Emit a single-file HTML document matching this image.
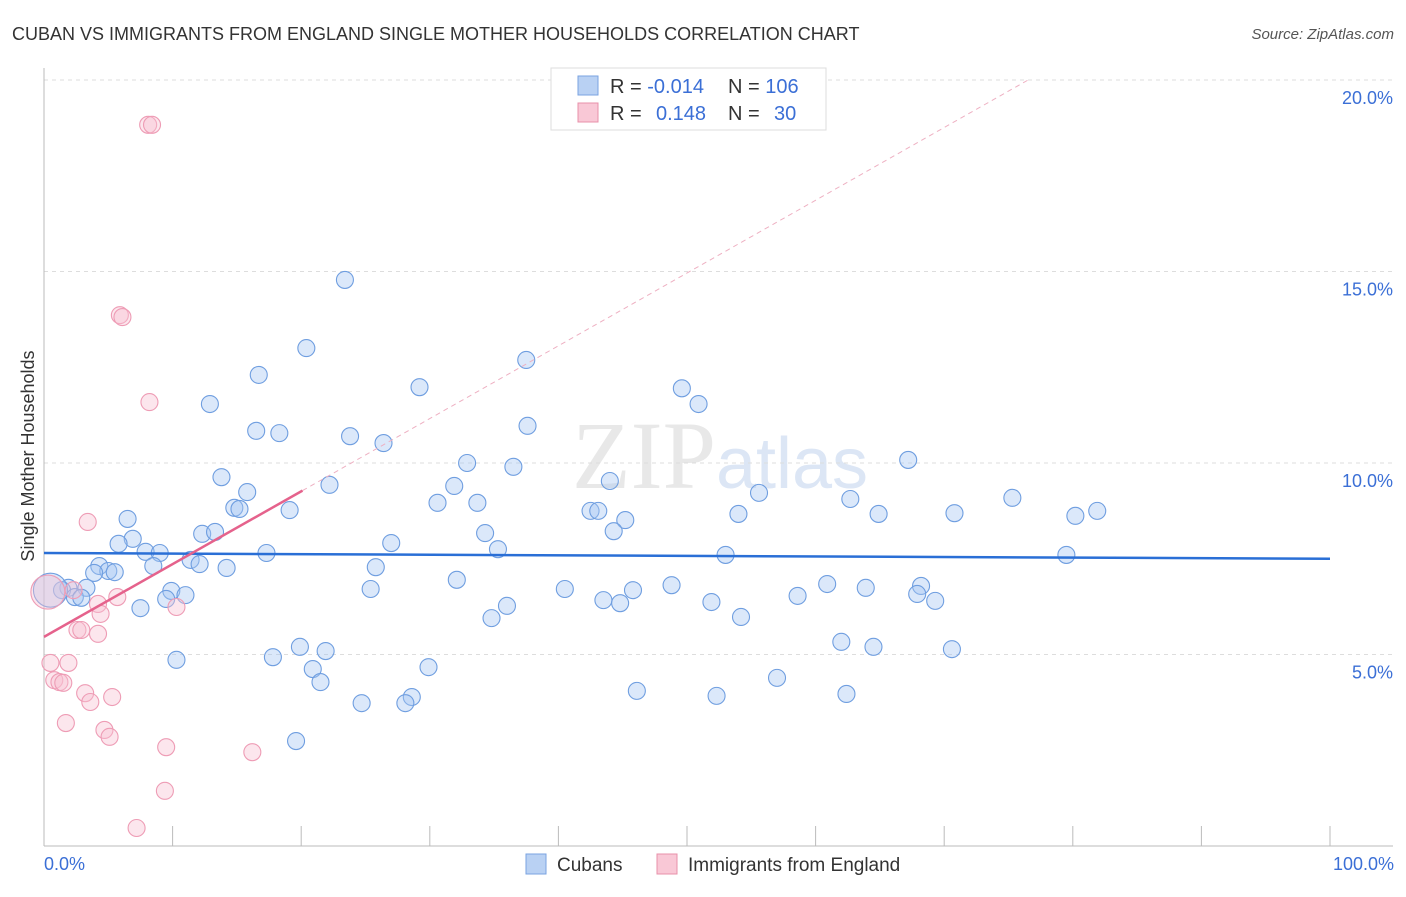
<!DOCTYPE html>
<html><head><meta charset="utf-8"><style>
body{margin:0;background:#fff;font-family:"Liberation Sans",sans-serif}
svg text{font-family:"Liberation Sans",sans-serif}
</style></head><body>
<svg id="chart" width="1406" height="892" xmlns="http://www.w3.org/2000/svg">
<text x="12" y="40" font-size="18" fill="#333">CUBAN VS IMMIGRANTS FROM ENGLAND SINGLE MOTHER HOUSEHOLDS CORRELATION CHART</text>
<text x="1394" y="39" font-size="15" fill="#555" font-style="italic" text-anchor="end">Source: ZipAtlas.com</text>
<text x="720" y="488" font-size="96" fill="#e8e8e8" text-anchor="middle" font-family="Liberation Serif"><tspan font-family="Liberation Serif">ZIP</tspan><tspan fill="#dce6f5" font-size="72" font-family="Liberation Sans">atlas</tspan></text>
<g id="grid"></g>
<g id="marks"></g>
<text transform="translate(34,456) rotate(-90)" font-size="18" fill="#333" text-anchor="middle">Single Mother Households</text>
<text x="44" y="870" font-size="18" fill="#3b6fd6">0.0%</text>
<text x="1394" y="870" font-size="18" fill="#3b6fd6" text-anchor="end">100.0%</text>
<g>
<rect x="551" y="68" width="275" height="62" fill="#fff" stroke="#ddd"/>
<rect x="578" y="76" width="20" height="19" fill="#b9d1f3" stroke="#7aa3e0"/>
<rect x="578" y="103" width="20" height="19" fill="#f9c8d6" stroke="#e890aa"/>
<text x="610" y="93" font-size="20" fill="#333">R = <tspan fill="#3b6fd6">-0.014</tspan></text>
<text x="728" y="93" font-size="20" fill="#333">N = <tspan fill="#3b6fd6">106</tspan></text>
<text x="610" y="120" font-size="20" fill="#333">R = </text>
<text x="656" y="120" font-size="20" fill="#3b6fd6">0.148</text>
<text x="728" y="120" font-size="20" fill="#333">N = </text>
<text x="774" y="120" font-size="20" fill="#3b6fd6">30</text>
</g>
<g>
<rect x="526" y="854" width="20" height="20" fill="#b9d1f3" stroke="#7aa3e0"/>
<text x="557" y="871" font-size="19" fill="#333">Cubans</text>
<rect x="657" y="854" width="20" height="20" fill="#f9c8d6" stroke="#e890aa"/>
<text x="688" y="871" font-size="19" fill="#333">Immigrants from England</text>
</g>
</svg>
<script>
const yTicks=[5,10,15,20];
const yTickLabels=["5.0%","10.0%","15.0%","20.0%"];
const xTicks=[10,20,30,40,50,60,70,80,90,100];
const cubanX=[23.4,20.4,16.7,37.5,29.2,49.6,50.9,12.9,16.5,18.3,23.8,26.4,37.6,32.9,36.5,67.2,13.8,44.0,22.2,15.8,31.9,55.6,30.6,33.7,62.7,75.3,14.8,15.2,19.1,42.5,43.1,54.0,64.9,70.8,80.2,81.9,6.5,45.2,34.3,44.3,12.3,13.3,6.9,5.8,27.0,35.3,7.9,9.0,17.3,53.0,79.5,11.4,12.1,8.5,14.2,4.3,25.8,5.0,5.5,3.9,32.1,48.8,60.9,68.2,63.9,40.5,45.8,25.4,9.9,3.3,1.9,1.4,67.9,11.0,2.4,2.9,9.5,58.6,43.5,44.8,51.9,69.3,7.5,36.0,34.8,54.2,62.0,64.5,70.6,19.9,21.9,10.3,17.8,20.9,29.9,21.5,57.0,46.1,28.6,52.3,62.4,24.7,28.1,19.6,0.5];
const cubanY=[14.78,13.0,12.3,12.69,11.98,11.95,11.54,11.54,10.84,10.78,10.70,10.52,10.97,10.0,9.90,10.08,9.63,9.53,9.43,9.24,9.40,9.22,8.96,8.96,9.06,9.09,8.83,8.80,8.77,8.75,8.75,8.67,8.67,8.69,8.62,8.75,8.54,8.51,8.17,8.22,8.15,8.20,8.02,7.89,7.91,7.75,7.68,7.65,7.65,7.60,7.60,7.47,7.36,7.31,7.26,7.31,7.28,7.18,7.15,7.13,6.95,6.81,6.84,6.79,6.74,6.71,6.68,6.71,6.66,6.74,6.74,6.68,6.58,6.55,6.50,6.48,6.45,6.53,6.42,6.34,6.37,6.40,6.21,6.27,5.95,5.98,5.33,5.20,5.14,5.20,5.09,4.86,4.93,4.62,4.67,4.28,4.39,4.05,3.89,3.92,3.97,3.73,3.73,2.74,6.68];
const englandX=[8.1,8.4,5.9,6.1,8.2,3.4,2.3,5.7,4.2,4.4,10.3,2.6,2.9,4.2,0.5,1.9,0.8,1.2,1.5,3.2,3.6,5.3,1.7,4.7,5.1,9.5,16.2,9.4,7.2,0.3];
const englandY=[18.83,18.83,13.86,13.81,11.59,8.46,6.68,6.50,6.32,6.06,6.24,5.64,5.64,5.54,4.78,4.78,4.33,4.28,4.26,3.99,3.76,3.89,3.21,3.03,2.85,2.58,2.45,1.44,0.47,6.63];
const cubanTrend=[7.65,7.50];
const englandTrend=[5.46,0.19];
const NS="http://www.w3.org/2000/svg";
const X0=44,X1=1330,Y0=846,Y1=80;
function sx(v){return X0+(X1-X0)*v/100;}
function sy(v){return Y0-(Y0-Y1)*v/20;}
function mk(tag,a,parent){const e=document.createElementNS(NS,tag);for(const k in a)e.setAttribute(k,a[k]);parent.appendChild(e);return e;}
const grid=document.getElementById('grid'),marks=document.getElementById('marks');
yTicks.forEach((t,i)=>{
 const l=mk('line',{x1:X0,x2:1393,y1:sy(t),y2:sy(t),stroke:'#ddd','stroke-dasharray':'4,4'},grid);
 
 
 const tx=mk('text',{x:1393,y:sy(t)+24,'font-size':18,fill:'#3b6fd6','text-anchor':'end'},grid);
 tx.textContent=yTickLabels[i];
 
 
});
const ax=mk('line',{x1:X0,x2:X0,y1:68,y2:Y0,stroke:'#bbb'},grid);


const bx=mk('line',{x1:X0,x2:1393,y1:Y0,y2:Y0,stroke:'#bbb'},grid);


xTicks.forEach(t=>{
 const l=mk('line',{x1:sx(t),x2:sx(t),y1:826,y2:Y0,stroke:'#bbb'},grid);
 
 
});
cubanX.forEach((x,i)=>{
 const big=i===cubanX.length-1;
 const c=mk('circle',{cx:sx(x),cy:sy(cubanY[i]),r:big?17:8.5,fill:'rgba(165,198,242,0.4)',stroke:'#6f9ee0','stroke-width':1.1},marks);
 
 
});
englandX.forEach((x,i)=>{
 const big=i===englandX.length-1;
 const c=mk('circle',{cx:sx(x),cy:sy(englandY[i]),r:big?17:8.5,fill:'rgba(248,192,210,0.4)',stroke:'#ee9cb5','stroke-width':1.1},marks);
 
 
});
const ct=mk('line',{x1:sx(0),y1:sy(cubanTrend[0]),x2:sx(100),y2:sy(cubanTrend[1]),stroke:'#2a6fd6','stroke-width':2.5},marks);


const xe=(20-englandTrend[0])/englandTrend[1];
const ed=mk('line',{x1:sx(20.1),y1:sy(englandTrend[0]+englandTrend[1]*20.1),x2:sx(xe),y2:sy(20),stroke:'#eeb0c2','stroke-width':1,'stroke-dasharray':'5,4'},marks);


const et=mk('line',{x1:sx(0),y1:sy(englandTrend[0]),x2:sx(20.1),y2:sy(englandTrend[0]+englandTrend[1]*20.1),stroke:'#e5628c','stroke-width':2.5},marks);


</script>
</body></html>
